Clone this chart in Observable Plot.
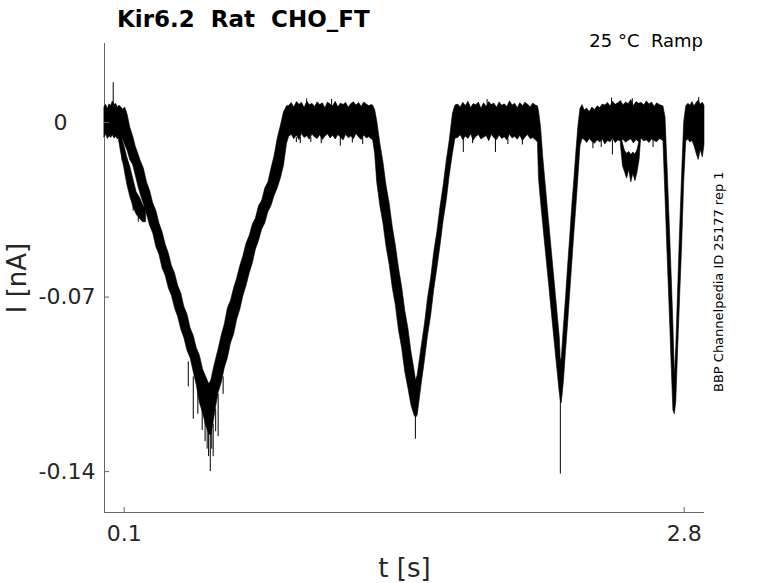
<!DOCTYPE html>
<html><head><meta charset="utf-8">
<script src="https://cdn.jsdelivr.net/npm/d3@7"></script>
<script src="https://cdn.jsdelivr.net/npm/@observablehq/plot@0.6"></script>
<style>
body{margin:0;background:#fff;}
#wrap{position:relative;width:778px;height:583px;font-family:"DejaVu Sans",sans-serif;}
#wrap svg{position:absolute;left:0;top:0;}
.t{position:absolute;white-space:pre;color:#000;line-height:normal;}
#title{left:117px;top:6px;font-weight:bold;font-size:23px;}
#sub{right:75px;top:30px;font-size:18px;}
#side{left:711px;top:392px;font-size:13px;transform-origin:0 0;transform:rotate(-90deg);}
svg g[aria-label="x-axis tick label"], svg g[aria-label="y-axis tick label"]{font-size:22px;}
svg g[aria-label="x-axis label"], svg g[aria-label="y-axis label"]{font-size:26px;}
</style></head>
<body>
<div id="wrap">
<div class="t" id="title">Kir6.2  Rat  CHO_FT</div>
<div class="t" id="sub">25 °C  Ramp</div>
<div class="t" id="side">BBP Channelpedia ID 25177 rep 1</div>
</div>
<script>
const xDomain = [0.005, 2.898];
const yDomain = [-0.1564, 0.0317];
const xTicks = [0.1, 2.8];
const yTicks = [-0.14, -0.07, 0];

// trace envelope (overlaid sweeps): time [s], upper and lower edge [nA]
const time = [
  0.005, 0.013, 0.021, 0.029, 0.037, 0.045, 0.053, 0.061, 0.069, 0.077, 0.085, 0.095,
  0.105, 0.117, 0.129, 0.143, 0.155, 0.168, 0.18, 0.195, 0.21, 0.225, 0.24, 0.255, 0.27, 0.285, 0.30, 0.315, 0.33, 0.345, 0.36, 0.375, 0.39, 0.405, 0.42, 0.435, 0.45, 0.465, 0.48, 0.495, 0.51,
  0.52, 0.53, 0.54, 0.555, 0.57, 0.585, 0.60, 0.615, 0.63, 0.645, 0.66, 0.675, 0.69, 0.705, 0.72, 0.735, 0.75, 0.765, 0.78, 0.795, 0.81, 0.825, 0.84, 0.855, 0.87, 0.885,
  0.895, 0.9075, 0.92, 0.9325, 0.945, 0.9575, 0.97, 0.9825, 0.995, 1.0075, 1.02, 1.0325, 1.045, 1.0575, 1.07, 1.0825, 1.095, 1.1075, 1.12, 1.1325, 1.145, 1.1575, 1.17, 1.1825, 1.195, 1.2075, 1.22, 1.2325, 1.245, 1.2575, 1.27, 1.2825, 1.29,
  1.30, 1.31, 1.32, 1.335, 1.35, 1.365, 1.38, 1.395, 1.41, 1.425, 1.44, 1.455, 1.47, 1.485, 1.50, 1.507,
  1.515, 1.525, 1.535, 1.55, 1.565, 1.58, 1.595, 1.61, 1.625, 1.64, 1.655, 1.67, 1.685, 1.697,
  1.71, 1.7225, 1.735, 1.7475, 1.76, 1.7725, 1.785, 1.7975, 1.81, 1.8225, 1.835, 1.8475, 1.86, 1.8725, 1.885, 1.8975, 1.91, 1.9225, 1.935, 1.9475, 1.96, 1.9725, 1.985, 1.9975, 2.01, 2.0225, 2.035, 2.0475, 2.06, 2.0725, 2.085,
  2.095, 2.10, 2.11, 2.12, 2.135, 2.15, 2.165, 2.18, 2.19, 2.20, 2.205,
  2.21, 2.22, 2.23, 2.24, 2.25, 2.26, 2.27, 2.28, 2.29, 2.30, 2.31,
  2.32, 2.3325, 2.345, 2.3575, 2.37, 2.3825, 2.395, 2.4075, 2.42, 2.4325, 2.445, 2.4575, 2.47, 2.4825, 2.495, 2.5075, 2.52, 2.5325, 2.545, 2.5575, 2.57, 2.5825, 2.595, 2.6075, 2.62, 2.6325, 2.645, 2.6575, 2.67, 2.6825, 2.695,
  2.70, 2.71, 2.72, 2.73, 2.74, 2.748, 2.755, 2.762, 2.77, 2.78, 2.79, 2.80, 2.81,
  2.82, 2.83, 2.84, 2.85, 2.86, 2.87, 2.88, 2.89, 2.898
];
const upper = [
  0.0062, 0.0071, 0.0054, 0.0073, 0.0066, 0.0084, 0.0070, 0.0075, 0.0059, 0.0068, 0.0061, 0.0052,
  0.006, 0.003, -0.002, -0.0055, -0.0095, -0.0125, -0.0155, -0.0185, -0.024, -0.0275, -0.0325, -0.0355, -0.0405, -0.044, -0.049, -0.0525, -0.0575, -0.0605, -0.0655, -0.0685, -0.074, -0.077, -0.0825, -0.0855, -0.0905, -0.0935, -0.099, -0.102, -0.105,
  -0.1035, -0.0995, -0.096, -0.091, -0.0855, -0.081, -0.0745, -0.0715, -0.0665, -0.0625, -0.0575, -0.0535, -0.0485, -0.0455, -0.041, -0.0385, -0.0335, -0.0315, -0.0265, -0.024, -0.0185, -0.0135, -0.0065, -0.0015, 0.004, 0.0065,
  0.0066, 0.0078, 0.0060, 0.0082, 0.0071, 0.0079, 0.0058, 0.0084, 0.0069, 0.0075, 0.0062, 0.0081, 0.0070, 0.0077, 0.0057, 0.0080, 0.0072, 0.0066, 0.0083, 0.0061, 0.0076, 0.0070, 0.0079, 0.0059, 0.0074, 0.0081, 0.0068, 0.0078, 0.0063, 0.0080, 0.0072, 0.0065, 0.0070,
  0.0068, 0.0050, 0.0005, -0.0085, -0.016, -0.0255, -0.0325, -0.042, -0.0495, -0.0585, -0.066, -0.0755, -0.0825, -0.092, -0.0995, -0.1035,
  -0.1015, -0.0955, -0.0895, -0.081, -0.0705, -0.0625, -0.052, -0.044, -0.034, -0.0255, -0.0155, -0.007, 0.0035, 0.0068,
  0.0072, 0.0060, 0.0079, 0.0066, 0.0083, 0.0058, 0.0074, 0.0069, 0.0080, 0.0055, 0.0077, 0.0063, 0.0082, 0.0070, 0.0076, 0.0059, 0.0081, 0.0067, 0.0073, 0.0062, 0.0085, 0.0068, 0.0075, 0.0057, 0.0078, 0.0065, 0.0080, 0.0071, 0.0061, 0.0076, 0.0068,
  0.0065, 0.0045, -0.002, -0.0135, -0.0275, -0.041, -0.0545, -0.068, -0.077, -0.086, -0.0955,
  -0.0945, -0.082, -0.0705, -0.058, -0.0465, -0.034, -0.0235, -0.012, -0.0015, 0.0055, 0.0070,
  0.0048, 0.0056, 0.0042, 0.0060, 0.0050, 0.0065, 0.0058, 0.0072, 0.0068, 0.0079, 0.0064, 0.0083, 0.0071, 0.0077, 0.0086, 0.0069, 0.0080, 0.0074, 0.0090, 0.0066, 0.0082, 0.0075, 0.0079, 0.0068, 0.0085, 0.0072, 0.0080, 0.0063, 0.0077, 0.0070, 0.0066,
  0.0065, 0.002, -0.018, -0.040, -0.062, -0.081, -0.102, -0.090, -0.0695, -0.044, -0.021, 0.000, 0.0065,
  0.0075, 0.0068, 0.0082, 0.0064, 0.0079, 0.0088, 0.0071, 0.0080, 0.0066
];
const lower = [
  -0.0060, -0.0048, -0.0066, -0.0055, -0.0062, -0.0051, -0.0064, -0.0058, -0.0067, -0.0062, -0.0066, -0.0070,
  -0.009, -0.0115, -0.015, -0.017, -0.021, -0.0255, -0.029, -0.033, -0.037, -0.0415, -0.0445, -0.050, -0.053, -0.0585, -0.0615, -0.0665, -0.0695, -0.0745, -0.078, -0.083, -0.0865, -0.0915, -0.0945, -0.100, -0.1055, -0.1125, -0.1165, -0.1215, -0.125,
  -0.1255, -0.121, -0.1155, -0.1085, -0.1045, -0.0985, -0.0945, -0.0885, -0.085, -0.079, -0.075, -0.0695, -0.0655, -0.0605, -0.0565, -0.051, -0.0475, -0.043, -0.0405, -0.036, -0.0335, -0.0295, -0.0265, -0.0225, -0.0175, -0.0085,
  -0.0058, -0.0049, -0.0067, -0.0052, -0.0071, -0.0046, -0.0062, -0.0055, -0.0069, -0.0048, -0.0060, -0.0066, -0.0051, -0.0070, -0.0057, -0.0047, -0.0064, -0.0053, -0.0068, -0.0050, -0.0061, -0.0072, -0.0049, -0.0063, -0.0056, -0.0067, -0.0046, -0.0060, -0.0070, -0.0052, -0.0064, -0.0058, -0.0066,
  -0.0070, -0.0125, -0.024, -0.0335, -0.0405, -0.050, -0.057, -0.0665, -0.0735, -0.0835, -0.0905, -0.100, -0.1065, -0.1135, -0.1175, -0.1185,
  -0.1175, -0.111, -0.1045, -0.0955, -0.0855, -0.0775, -0.067, -0.0585, -0.0495, -0.0395, -0.0315, -0.0210, -0.0125, -0.0065,
  -0.0062, -0.0051, -0.0070, -0.0056, -0.0066, -0.0047, -0.0073, -0.0058, -0.0050, -0.0068, -0.0061, -0.0054, -0.0075, -0.0049, -0.0063, -0.0070, -0.0052, -0.0066, -0.0059, -0.0072, -0.0048, -0.0064, -0.0057, -0.0069, -0.0053, -0.0074, -0.0060, -0.0050, -0.0067, -0.0062, -0.0071,
  -0.0080, -0.0225, -0.0320, -0.0407, -0.0534, -0.0660, -0.0790, -0.0917, -0.1000, -0.1085, -0.1115,
  -0.1125, -0.104, -0.092, -0.081, -0.069, -0.057, -0.045, -0.034, -0.022, -0.0095, -0.0065,
  -0.0070, -0.0082, -0.0066, -0.0078, -0.0085, -0.0071, -0.0080, -0.0068, -0.0088, -0.0074, -0.0079, -0.0065, -0.0083, -0.0072, -0.0076, -0.0069, -0.0081, -0.0073, -0.0067, -0.0084, -0.0070, -0.0078, -0.0064, -0.0076, -0.0071, -0.0082, -0.0068, -0.0074, -0.0079, -0.0066, -0.0072,
  -0.0075, -0.030, -0.053, -0.075, -0.098, -0.1155, -0.117, -0.112, -0.093, -0.071, -0.050, -0.024, -0.0075,
  -0.0068, -0.0080, -0.0074, -0.0095, -0.0125, -0.0150, -0.0110, -0.0140, -0.0090
];

// one early sweep that leaves the baseline first (left of the first ramp)
const earlyTime  = [0.075, 0.085, 0.10, 0.115, 0.13, 0.145, 0.16, 0.175, 0.19, 0.205];
const earlyUpper = [-0.002, -0.005, -0.009, -0.014, -0.018, -0.023, -0.028, -0.030, -0.033, -0.035];
const earlyLower = [-0.007, -0.012, -0.018, -0.025, -0.030, -0.034, -0.037, -0.0385, -0.040, -0.040];

// one sweep that dips below the baseline near 2.55 s
const dipTime  = [2.495, 2.505, 2.515, 2.525, 2.535, 2.545, 2.555, 2.565, 2.575, 2.585, 2.592];
const dipUpper = [-0.005, -0.0085, -0.0115, -0.0125, -0.0118, -0.013, -0.0120, -0.0128, -0.0110, -0.0075, -0.005];
const dipLower = [-0.009, -0.0175, -0.020, -0.0225, -0.019, -0.024, -0.0205, -0.0235, -0.020, -0.015, -0.007];

// noise spikes: time, start value, tip value
const spikeTime = [0.047, 0.09, 0.143, 0.168, 0.409, 0.433, 0.455, 0.476, 0.49, 0.50, 0.507, 0.515, 0.522, 0.529, 0.541, 0.553, 0.577,
  0.93, 0.949, 0.98, 1.00, 1.05, 1.10, 1.142, 1.20, 1.25, 1.504, 1.735, 1.78, 1.85, 1.89, 1.95, 2.02, 2.203, 2.36, 2.40, 2.454, 2.45, 2.55, 2.65, 2.87];
const spikeBase = [0.007, -0.010, -0.030, -0.035, -0.096, -0.102, -0.107, -0.115, -0.119, -0.122, -0.124, -0.125, -0.123, -0.121, -0.115, -0.109, -0.102,
  -0.006, -0.006, 0.007, -0.006, -0.006, 0.007, -0.006, -0.006, -0.006, -0.118, -0.006, -0.006, 0.007, -0.006, -0.006, -0.006, -0.110, -0.007, -0.007, -0.007, 0.007, 0.007, -0.007, 0.007];
const spikeTip  = [0.016, -0.0155, -0.0355, -0.040, -0.106, -0.119, -0.117, -0.1235, -0.128, -0.131, -0.134, -0.140, -0.131, -0.134, -0.124, -0.126, -0.109,
  -0.0080, -0.0085, 0.0095, -0.0080, -0.0085, 0.0093, -0.0095, -0.0082, -0.0088, -0.127, -0.012, -0.0085, 0.0092, -0.012, -0.0088, -0.0090, -0.141, -0.0105, -0.0100, -0.013, 0.0098, 0.0095, -0.0100, 0.010];

const chart = Plot.plot({
  width: 778, height: 583,
  marginTop: 43, marginRight: 74, marginBottom: 71, marginLeft: 104,
  style: {fontFamily: '"DejaVu Sans", sans-serif', color: "#262626", background: "transparent", overflow: "visible"},
  x: {domain: xDomain},
  y: {domain: yDomain},
  marks: [
    Plot.ruleY([yDomain[0]], {stroke: "#666"}),
    Plot.ruleX([xDomain[0]], {stroke: "#666"}),
    Plot.areaY(time, {x: time, y1: lower, y2: upper, fill: "black", stroke: "black", strokeWidth: 0.6}),
    Plot.areaY(earlyTime, {x: earlyTime, y1: earlyLower, y2: earlyUpper, fill: "black", stroke: "black", strokeWidth: 0.6}),
    Plot.areaY(dipTime, {x: dipTime, y1: dipLower, y2: dipUpper, fill: "black", stroke: "black", strokeWidth: 0.6}),
    Plot.ruleX(spikeTime, {x: spikeTime, y1: spikeBase, y2: spikeTip, stroke: "black", strokeWidth: 1}),
    Plot.axisX({ticks: xTicks, tickFormat: d => String(d), tickSize: -5, tickPadding: 18, stroke: "#666",
      label: "t [s]", labelAnchor: "center", labelArrow: "none", labelOffset: 64}),
    Plot.axisY({ticks: yTicks, tickFormat: d => d === 0 ? "0\u2007\u2007" : String(d), tickSize: -5, tickPadding: 14, stroke: "#666",
      label: "I [nA]", labelAnchor: "center", labelArrow: "none", labelOffset: 97})
  ]
});
document.getElementById("wrap").prepend(chart);
</script>
</body></html>
